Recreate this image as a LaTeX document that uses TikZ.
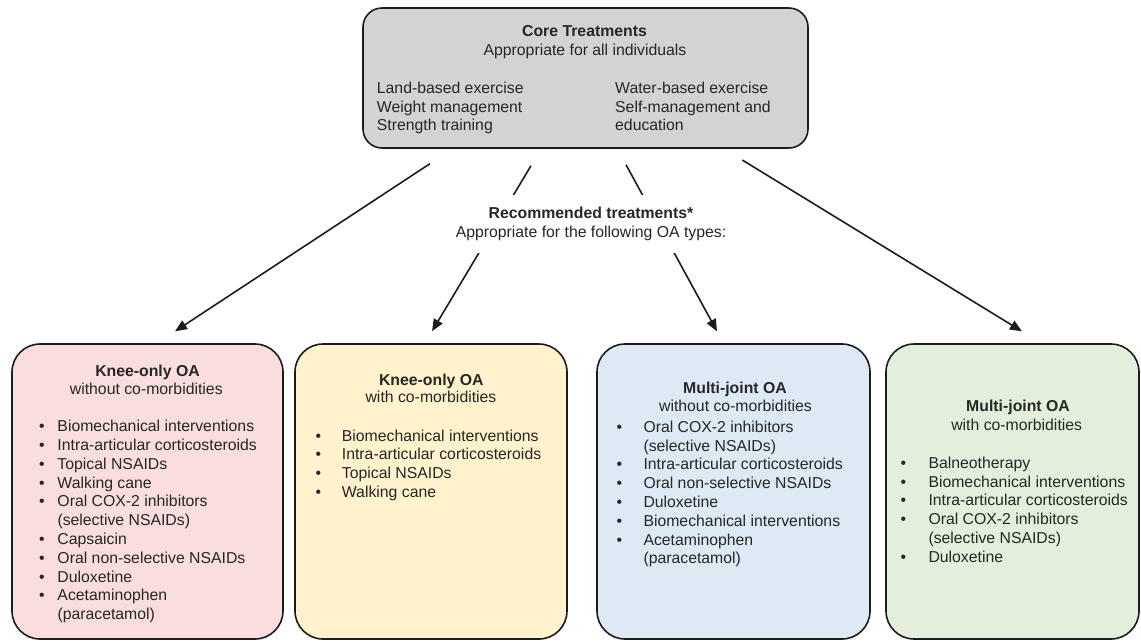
\documentclass[tikz,border=0pt]{standalone}
\usepackage{fontspec}
\setmainfont{Liberation Sans}
\usetikzlibrary{arrows.meta}
\definecolor{coregray}{RGB}{211,211,211}
\definecolor{pinkfill}{RGB}{250,221,221}
\definecolor{yellowfill}{RGB}{255,242,204}
\definecolor{bluefill}{RGB}{221,234,246}
\definecolor{greenfill}{RGB}{226,239,218}
\definecolor{linedark}{RGB}{28,28,28}
\definecolor{txtdark}{RGB}{38,38,38}
\newcommand{\oatext}{\fontsize{15.8}{18.8}\selectfont}

\begin{document}
\begin{tikzpicture}[x=1pt,y=-1pt,
  every node/.style={font=\oatext, text=txtdark, inner sep=0pt},
  box/.style={draw=linedark, line width=1.6pt, rounded corners=28pt, minimum height=295pt},
  arr/.style={draw=linedark, line width=1.6pt, -{Triangle[length=12pt,width=10pt]}}]
\useasboundingbox (0,0) rectangle (1141,641);

\node[box, fill=coregray, rounded corners=19pt, minimum width=445pt, minimum height=140pt] (core) at (585.5,78) {};
\node[anchor=base, font=\oatext\bfseries] (coretitle) at (584.5,36.7) {Core Treatments};
\node[anchor=base] (coresub) at (585,55) {Appropriate for all individuals};
\node[anchor=base west] (coreleft) at (376.7,93.3) {\begin{tabular}[t]{@{}l@{}}Land-based exercise\\Weight management\\Strength training\end{tabular}};
\node[anchor=base west] (coreright) at (615,93.3) {\begin{tabular}[t]{@{}l@{}}Water-based exercise\\Self-management and\\education\end{tabular}};

\node[box, fill=pinkfill, minimum width=271pt] (kneeplain) at (147.5,491.5) {};
\node[box, fill=yellowfill, minimum width=272pt] (kneecomorb) at (431,491.5) {};
\node[box, fill=bluefill, minimum width=273pt] (multiplain) at (733.5,491.5) {};
\node[box, fill=greenfill, minimum width=253pt] (multicomorb) at (1012.5,491.5) {};

\draw[arr, shorten <=27.2pt, shorten >=21.7pt] ([xshift=-132.9pt]core.south) -- ([xshift=9.4pt]kneeplain.north);
\draw[arr, shorten <=19.8pt, shorten >=14pt] ([xshift=-44.4pt]core.south) -- ([xshift=-6.1pt]kneecomorb.north);
\draw[arr, shorten <=18.2pt, shorten >=13.6pt] ([xshift=31.8pt]core.south) -- ([xshift=-10pt]multiplain.north);
\draw[arr, shorten <=21.5pt, shorten >=22.8pt] ([xshift=138.5pt]core.south) -- ([xshift=28.9pt]multicomorb.north);

\node[anchor=base, fill=white, inner xsep=6pt, inner ysep=10pt] (rec) at (591,218.3) {\begin{tabular}[t]{@{}c@{}}\textbf{Recommended treatments*}\\Appropriate for the following OA types:\end{tabular}};

\node[anchor=base, font=\oatext\bfseries] (kneeplaintitle) at (147.5,376.7) {Knee-only OA};
\node[anchor=base] (kneeplainsub) at (146.3,394) {without co-morbidities};
\node[anchor=base west] (kneeplainlist) at (39,431.7) {\begin{tabular}[t]{@{}p{18.3pt}@{}l@{}}
\textbullet & Biomechanical interventions\\
\textbullet & Intra-articular corticosteroids\\
\textbullet & Topical NSAIDs\\
\textbullet & Walking cane\\
\textbullet & Oral COX-2 inhibitors\\
 & (selective NSAIDs)\\
\textbullet & Capsaicin\\
\textbullet & Oral non-selective NSAIDs\\
\textbullet & Duloxetine\\
\textbullet & Acetaminophen\\
 & (paracetamol)
\end{tabular}};

\node[anchor=base, font=\oatext\bfseries] (kneecomorbtitle) at (431.3,385) {Knee-only OA};
\node[anchor=base] (kneecomorbsub) at (431,402.7) {with co-morbidities};
\node[anchor=base west] (kneecomorblist) at (315.5,441) {\begin{tabular}[t]{@{}p{26.2pt}@{}l@{}}
\textbullet & Biomechanical interventions\\
\textbullet & Intra-articular corticosteroids\\
\textbullet & Topical NSAIDs\\
\textbullet & Walking cane
\end{tabular}};

\node[anchor=base, font=\oatext\bfseries] (multiplaintitle) at (735,393.3) {Multi-joint OA};
\node[anchor=base] (multiplainsub) at (735.5,411.7) {without co-morbidities};
\node[anchor=base west] (multiplainlist) at (616.5,432.3) {\begin{tabular}[t]{@{}p{26.8pt}@{}l@{}}
\textbullet & Oral COX-2 inhibitors\\
 & (selective NSAIDs)\\
\textbullet & Intra-articular corticosteroids\\
\textbullet & Oral non-selective NSAIDs\\
\textbullet & Duloxetine\\
\textbullet & Biomechanical interventions\\
\textbullet & Acetaminophen\\
 & (paracetamol)
\end{tabular}};

\node[anchor=base, font=\oatext\bfseries] (multicomorbtitle) at (1018,411.7) {Multi-joint OA};
\node[anchor=base] (multicomorbsub) at (1016.7,430) {with co-morbidities};
\node[anchor=base west] (multicomorblist) at (900.5,468.3) {\begin{tabular}[t]{@{}p{27.8pt}@{}l@{}}
\textbullet & Balneotherapy\\
\textbullet & Biomechanical interventions\\
\textbullet & Intra-articular corticosteroids\\
\textbullet & Oral COX-2 inhibitors\\
 & (selective NSAIDs)\\
\textbullet & Duloxetine
\end{tabular}};
\end{tikzpicture}
\end{document}
